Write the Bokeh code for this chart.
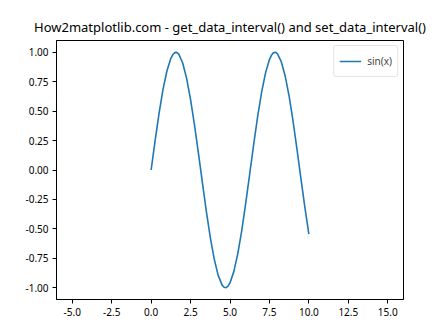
from bokeh.plotting import figure
from bokeh.models import FixedTicker, PrintfTickFormatter, Range1d, Legend, LegendItem
from bokeh.embed import file_html
from bokeh.resources import INLINE

x_vals = [0.0, 0.25, 0.5, 0.75, 1.0, 1.25, 1.375, 1.5, 1.625, 1.75, 2.0, 2.25, 2.5, 2.75,
          3.0, 3.25, 3.5, 3.75, 4.0, 4.25, 4.5, 4.625, 4.75, 4.875, 5.0, 5.25, 5.5, 5.75,
          6.0, 6.25, 6.5, 6.75, 7.0, 7.25, 7.5, 7.625, 7.75, 7.875, 8.0, 8.25, 8.5, 8.75,
          9.0, 9.25, 9.5, 9.75, 10.0]
y_vals = [0.0, 0.247, 0.479, 0.682, 0.841, 0.949, 0.981, 0.997, 0.999, 0.984, 0.909, 0.778,
          0.598, 0.382, 0.141, -0.108, -0.351, -0.572, -0.757, -0.895, -0.978, -0.996,
          -0.999, -0.987, -0.959, -0.859, -0.706, -0.510, -0.279, -0.033, 0.215, 0.451,
          0.657, 0.823, 0.938, 0.974, 0.995, 1.0, 0.989, 0.920, 0.798, 0.625, 0.412, 0.173,
          -0.075, -0.319, -0.544]
x_ticks = [-5.0, -2.5, 0.0, 2.5, 5.0, 7.5, 10.0, 12.5, 15.0]
y_ticks = [-1.0, -0.75, -0.5, -0.25, 0.0, 0.25, 0.5, 0.75, 1.0]
series_label = "sin(x)"
title_text = "How2matplotlib.com - get_data_interval() and set_data_interval()"

FONT = "Noto Sans"

p = figure(width=448, height=336, output_backend="svg", toolbar_location=None,
           x_range=Range1d(-6, 16), y_range=Range1d(-1.1, 1.1),
           min_border_left=56, min_border_right=45, min_border_top=40,
           min_border_bottom=37)
p.title.text = title_text
p.title.align = "center"
p.title.text_font = FONT
p.title.text_font_size = "13px"
p.title.text_font_style = "normal"
p.title.text_color = "#000000"

r = p.line(x_vals, y_vals, line_color="#1f77b4", line_width=1.6)

p.xgrid.visible = False
p.ygrid.visible = False
p.outline_line_color = "#000000"
p.outline_line_width = 1

for ax in (p.xaxis, p.yaxis):
    ax.axis_line_color = "#000000"
    ax.major_tick_in = 0
    ax.major_tick_out = 4
    ax.minor_tick_line_color = None
    ax.major_label_text_font = FONT
    ax.major_label_text_font_size = "10px"
    ax.major_label_text_color = "#000000"
    ax.major_label_standoff = 4

p.xaxis.ticker = FixedTicker(ticks=x_ticks)
p.yaxis.ticker = FixedTicker(ticks=y_ticks)
p.xaxis.formatter = PrintfTickFormatter(format="%.1f")
p.yaxis.formatter = PrintfTickFormatter(format="%.2f")

legend = Legend(items=[LegendItem(label=series_label, renderers=[r])],
                location="top_right")
legend.label_text_font = FONT
legend.label_text_font_size = "10px"
legend.border_line_color = "#cccccc"
legend.border_radius = 3
legend.glyph_width = 22
legend.padding = 5
legend.spacing = 0
legend.margin = 5
legend.label_standoff = 6
p.add_layout(legend)

open("out.html", "w").write(file_html(p, INLINE))
